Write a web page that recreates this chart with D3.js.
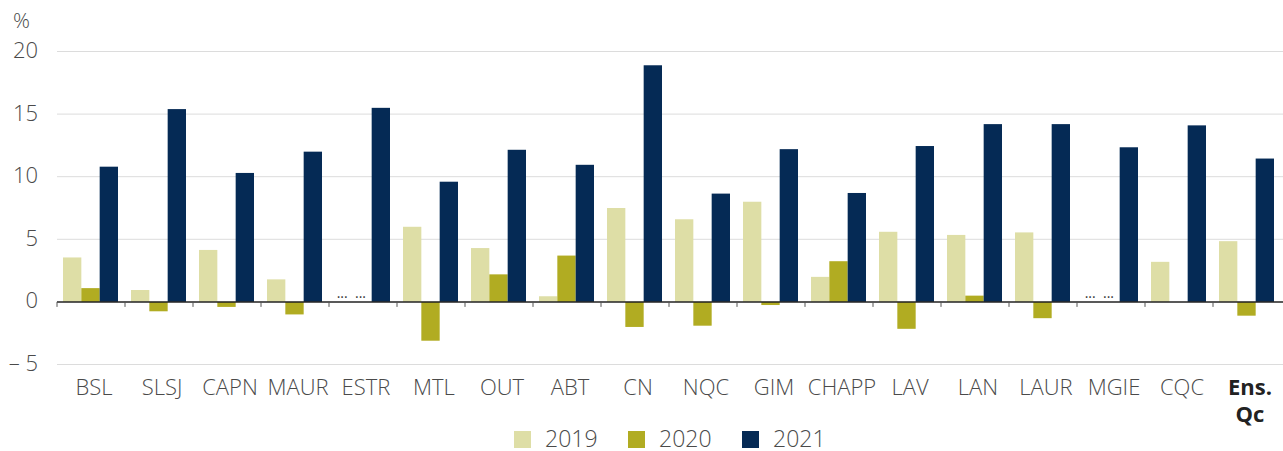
<!DOCTYPE html>
<html>
<head>
<meta charset="utf-8">
<script src="https://cdn.jsdelivr.net/npm/d3@7"></script>
<style>
  body { margin: 0; background: #fff; }
  text { font-family: "Open Sans", sans-serif; }
</style>
</head>
<body>
<div id="chart"></div>
<script>
// régions, la dernière est l'ensemble du Québec
const CATEGORIES = ["BSL", "SLSJ", "CAPN", "MAUR", "ESTR", "MTL", "OUT", "ABT", "CN", "NQC",
    "GIM", "CHAPP", "LAV", "LAN", "LAUR", "MGIE", "CQC", "Ens. Qc"];
const YEARS = ["2019", "2020", "2021"];
// null = donnée non disponible (affichée « ... »)
const V2019 = [3.55, 0.95, 4.15, 1.8, null, 6.0, 4.3, 0.45, 7.5, 6.6, 8.0, 2.0, 5.6, 5.35, 5.55, null, 3.2, 4.85];
const V2020 = [1.1, -0.75, -0.4, -1.0, null, -3.1, 2.2, 3.7, -2.0, -1.9, -0.25, 3.25, -2.15, 0.5, -1.3, null, 0, -1.1];
const V2021 = [10.8, 15.4, 10.3, 12.0, 15.5, 9.6, 12.15, 10.95, 18.9, 8.65, 12.2, 8.7, 12.45, 14.2, 14.2, 12.35, 14.1, 11.45];
const Y_TICKS = [-5, 0, 5, 10, 15, 20];

const COLORS = ["#dedea6", "#b1ac22", "#052a55"];
const SERIES = [V2019, V2020, V2021];

const width = 1283, height = 451;
const svg = d3.select("#chart").append("svg")
    .attr("width", width)
    .attr("height", height);

const x = d3.scaleBand()
    .domain(CATEGORIES)
    .range([57, 1281])
    .padding(0);

const xInner = d3.scaleBand()
    .domain(YEARS)
    .range([6, 61])
    .padding(0);

const y = d3.scaleLinear()
    .domain([-5, 20])
    .range([364.5, 51.5]);

const textColor = "#4a4a4a";

// grille horizontale
svg.append("g")
    .selectAll("line")
    .data(Y_TICKS.filter(t => t != 0))
    .join("line")
    .attr("x1", 57)
    .attr("x2", width)
    .attr("y1", d => y(d))
    .attr("y2", d => y(d))
    .attr("stroke", "#dcdcdc")
    .attr("stroke-width", 1);

// étiquettes de l'axe y
svg.append("g")
    .selectAll("text")
    .data(Y_TICKS)
    .join("text")
    .attr("x", 38)
    .attr("y", d => y(d) + 6.5)
    .attr("text-anchor", "end")
    .attr("font-size", 22)
    .attr("font-weight", 300)
    .attr("fill", textColor)
    .text(d => d < 0 ? "\u2013 " + Math.abs(d) : d);

svg.append("text")
    .attr("x", 13)
    .attr("y", 28)
    .attr("font-size", 21)
    .attr("font-weight", 300)
    .attr("fill", textColor)
    .text("%");

// barres
const groups = svg.append("g")
    .selectAll("g")
    .data(CATEGORIES)
    .join("g")
    .attr("transform", d => `translate(${x(d)},0)`);

groups.selectAll("rect")
    .data((d, i) => YEARS.map((yr, j) => ({ yr: yr, v: SERIES[j][i], c: COLORS[j] })))
    .join("rect")
    .filter(d => d.v !== null)
    .attr("x", d => xInner(d.yr))
    .attr("width", xInner.bandwidth())
    .attr("y", d => y(Math.max(0, d.v)))
    .attr("height", d => Math.abs(y(d.v) - y(0)))
    .attr("fill", d => d.c);

// données manquantes
groups.selectAll("text.na")
    .data((d, i) => YEARS.map((yr, j) => ({ yr: yr, v: SERIES[j][i] })).filter(d => d.v === null))
    .join("text")
    .attr("class", "na")
    .attr("x", d => xInner(d.yr) + xInner.bandwidth() / 2 - 2)
    .attr("y", y(0) - 4)
    .attr("text-anchor", "middle")
    .attr("font-size", 14)
    .attr("fill", "#333")
    .text("...");

// axe zéro et graduations
svg.append("line")
    .attr("x1", 57)
    .attr("x2", width)
    .attr("y1", y(0))
    .attr("y2", y(0))
    .attr("stroke", "#222")
    .attr("stroke-width", 1.5);

svg.append("g")
    .selectAll("line")
    .data(CATEGORIES)
    .join("line")
    .attr("x1", d => x(d))
    .attr("x2", d => x(d))
    .attr("y1", y(0))
    .attr("y2", y(0) + 5)
    .attr("stroke", "#555")
    .attr("stroke-width", 1);

// étiquettes de l'axe x
const labels = svg.append("g")
    .selectAll("text")
    .data(CATEGORIES)
    .join("text")
    .attr("y", 395)
    .attr("text-anchor", "middle")
    .attr("font-size", 22)
    .attr("fill", d => d == "Ens. Qc" ? "#222" : textColor)
    .attr("font-weight", d => d == "Ens. Qc" ? 700 : 300);

labels.each(function (d) {
    let parts = d == "Ens. Qc" ? ["Ens.", "Qc"] : [d];
    d3.select(this).selectAll("tspan")
        .data(parts)
        .join("tspan")
        .attr("x", x(d) + x.bandwidth() / 2 + 3)
        .attr("dy", (p, k) => k == 0 ? 0 : 27)
        .text(p => p);
});

// légende
const legendX = [514, 628, 742];
const legend = svg.append("g")
    .selectAll("g")
    .data(YEARS)
    .join("g")
    .attr("transform", (d, i) => `translate(${legendX[i]},431)`);

legend.append("rect")
    .attr("width", 17)
    .attr("height", 17)
    .attr("fill", (d, i) => COLORS[i]);

legend.append("text")
    .attr("x", 31)
    .attr("y", 16)
    .attr("font-size", 23)
    .attr("font-weight", 300)
    .attr("fill", textColor)
    .text(d => d);
</script>
</body>
</html>
